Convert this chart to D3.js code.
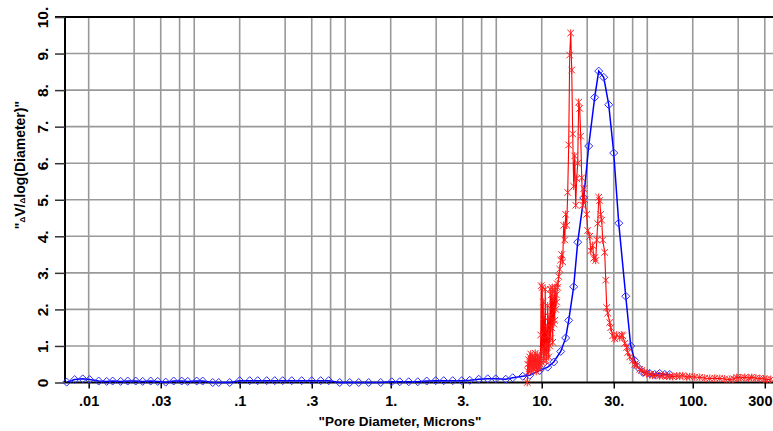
<!DOCTYPE html>
<html>
<head>
<meta charset="utf-8">
<script src="https://cdn.jsdelivr.net/npm/d3@7"></script>
<style>
  html, body { margin: 0; padding: 0; background: #fff; }
  svg { display: block; }
  text { font-family: Arial, "Liberation Sans", sans-serif; font-weight: bold; fill: #000; }
</style>
</head>
<body>
<svg id="chart" width="773" height="431"></svg>
<script>
// Pore size distribution, dV/dlog(D) versus pore diameter (microns)

// Blue run (diamond markers)
const blueDiam = [0.00715, 0.00808, 0.00913, 0.01015, 0.01165, 0.01316, 0.01442, 0.01629, 0.01813, 0.02048,
  0.02279, 0.02574, 0.02864, 0.03236, 0.03655, 0.04129, 0.04526, 0.05191, 0.05689, 0.06627,
  0.07261, 0.08587, 0.1, 0.1165, 0.1316, 0.151, 0.1706, 0.1927, 0.2211, 0.2574,
  0.2999, 0.3439, 0.3885, 0.4595, 0.5352, 0.614, 0.715, 0.8587, 1.015, 1.147,
  1.316, 1.51, 1.732, 1.986, 2.244, 2.574, 2.953, 3.336, 3.826, 4.389,
  4.96, 5.776, 6.426, 7.485, 8.327, 9.7, 10.96, 12.01, 13.36, 14.41,
  15.09, 16.28, 17.31, 18.97, 20.47, 22.43, 23.84, 25.74, 27.78, 29.98,
  32.36, 36.01, 38.86, 41.29, 43.22, 46.72, 51.9, 56.0, 60.4, 65.3, 70.4];
const blueVal = [0.01, 0.08, 0.1, 0.08, 0.04, 0.03, 0.04, 0.03, 0.04, 0.04,
  0.03, 0.04, 0.03, 0.01, 0.04, 0.04, 0.03, 0.04, 0.04, 0.0,
  0.0, 0.0, 0.05, 0.05, 0.05, 0.05, 0.05, 0.05, 0.05, 0.05,
  0.05, 0.05, 0.05, 0.0, 0.0, 0.0, 0.0, 0.0, 0.02, 0.02,
  0.02, 0.02, 0.04, 0.05, 0.05, 0.05, 0.05, 0.06, 0.09, 0.1,
  0.1, 0.09, 0.13, 0.17, 0.2, 0.33, 0.42, 0.56, 0.85, 1.22,
  1.7, 2.62, 3.84, 5.05, 6.47, 7.8, 8.52, 8.35, 7.6, 6.28,
  4.36, 2.36, 1.0, 0.6, 0.42, 0.28, 0.25, 0.22, 0.25, 0.22, 0.22];

// Red run (asterisk markers)
const redDiam = [8.017, 8.078, 8.14, 8.203, 8.265, 8.329, 8.392, 8.457, 8.521, 8.586,
  8.652, 8.718, 8.785, 8.852, 8.92, 8.988, 9.057, 9.126, 9.196, 9.267,
  9.338, 9.409, 9.481, 9.554, 9.627, 9.7, 9.774, 9.849, 9.924, 10.0,
  10.077, 10.154, 10.232, 10.31, 10.389, 10.468, 10.548, 10.629, 10.71, 10.792,
  10.875, 10.958, 11.042, 11.127, 11.212, 11.298, 11.384, 11.471, 11.559, 11.647,
  11.736, 11.826, 11.917, 12.008, 12.1, 12.192, 12.286, 12.38, 12.474, 12.57,
  12.666, 12.763, 12.96, 13.16, 13.36, 13.56, 13.77, 13.98, 14.2, 14.41,
  14.64, 14.86, 15.09, 15.32, 15.56, 15.8, 16.04, 16.28, 16.53, 16.79,
  17.05, 17.31, 17.57, 17.84, 18.12, 18.4, 18.68, 18.97, 19.26, 19.85,
  20.16, 20.78, 21.1, 21.76, 22.09, 22.43, 22.78, 23.13, 23.48, 23.84,
  24.21, 24.58, 24.96, 25.35, 26.13, 26.53, 26.94, 27.36, 28.2, 28.64,
  29.52, 30.44, 31.38, 32.86, 33.88, 34.4, 35.47, 36.56, 37.13, 38.27,
  40.09, 41.29, 42.62, 44.57, 45.96, 48.1, 49.6, 51.9, 54.35, 56.9,
  60.4, 63.3, 67.3, 70.4, 73.7, 78.3, 82.0, 85.9, 91.3, 95.5,
  103.1, 111.3, 120.1, 129.6, 139.9, 151.0, 162.9, 175.8, 186.9, 195.6,
  207.9, 221.1, 235.0, 245.9, 261.4, 277.8, 295.3, 309.2, 328.6];
const redVal = [0.0, 0.5, 0.3, 0.62, 0.38, 0.7, 0.45, 0.78, 0.32, 0.6,
  0.4, 0.72, 0.5, 0.35, 0.68, 0.42, 0.8, 0.5, 0.3, 0.65,
  0.45, 0.75, 0.38, 0.6, 0.42, 0.7, 0.5, 1.3, 2.65, 0.55,
  2.6, 0.9, 2.2, 0.6, 1.8, 0.75, 2.55, 1.0, 0.6, 1.5,
  0.8, 2.1, 1.3, 0.7, 1.8, 1.0, 2.55, 1.2, 2.4, 1.5,
  2.6, 1.1, 2.3, 1.6, 2.5, 1.7, 2.6, 2.0, 2.4, 2.2,
  2.7, 2.6, 2.9, 3.1, 3.35, 3.5, 3.3, 4.3, 3.9, 4.6,
  4.3, 5.2, 6.5, 8.96, 9.56, 8.55, 6.8, 5.37, 6.2, 4.85,
  5.58, 6.0, 7.67, 7.5, 6.74, 5.6, 4.85, 5.3, 5.0, 4.6,
  4.16, 4.0, 3.6, 3.75, 3.4, 3.42, 3.34, 3.9, 4.35, 5.07,
  4.98, 4.6, 4.44, 3.9, 3.56, 2.8, 2.05, 1.9, 1.64, 1.5,
  1.28, 1.2, 1.3, 1.23, 1.3, 1.28, 1.07, 0.96, 0.82, 0.7,
  0.6, 0.5, 0.47, 0.36, 0.33, 0.28, 0.25, 0.22, 0.19, 0.2,
  0.18, 0.19, 0.17, 0.17, 0.16, 0.18, 0.17, 0.19, 0.15, 0.16,
  0.15, 0.14, 0.12, 0.11, 0.12, 0.11, 0.1, 0.08, 0.1, 0.14,
  0.13, 0.14, 0.12, 0.14, 0.12, 0.11, 0.1, 0.08, 0.09];

// Axis ticks and labels
const xTickValues = [0.01, 0.03, 0.1, 0.3, 1, 3, 10, 30, 100, 300];
const xTickLabels = [".01", ".03", ".1", ".3", "1.", "3.", "10.", "30.", "100.", "300"];
const xGridValues = [0.01, 0.02, 0.03, 0.04, 0.05, 0.1, 0.2, 0.3, 0.4, 0.5,
  1, 2, 3, 4, 5, 10, 20, 30, 40, 50, 100, 200, 300];
const yTickValues = [0, 1, 2, 3, 4, 5, 6, 7, 8, 9, 10];
const yTickLabels = ["0", "1.", "2.", "3.", "4.", "5.", "6.", "7.", "8.", "9.", "10."];
const xDomain = [0.00697, 340];
const yDomain = [0, 10];

const svg = d3.select("#chart");
const W = 773, H = 431;
const mLeft = 65, mRight = 773, mTop = 17, mBottom = 382.5;

const x = d3.scaleLog().domain(xDomain).range([mLeft, mRight]);
const y = d3.scaleLinear().domain(yDomain).range([mBottom, mTop]);

// Grid
const grid = svg.append("g").attr("stroke", "#999").attr("stroke-width", 1.6);
grid.selectAll("line.v").data(xGridValues).join("line").attr("class", "v")
  .attr("x1", d => x(d)).attr("x2", d => x(d))
  .attr("y1", mTop).attr("y2", mBottom);
grid.selectAll("line.h").data(yTickValues.filter(v => v > 0 && v < 10)).join("line").attr("class", "h")
  .attr("x1", mLeft).attr("x2", mRight)
  .attr("y1", d => y(d)).attr("y2", d => y(d));

// Frame: top border
svg.append("line").attr("x1", mLeft - 10).attr("x2", mRight)
  .attr("y1", mTop).attr("y2", mTop).attr("stroke", "#000").attr("stroke-width", 2);

// Bottom axis
const xAxis = d3.axisBottom(x).tickValues(xTickValues)
  .tickFormat((d, i) => xTickLabels[i]).tickSize(6).tickPadding(7).tickSizeOuter(0);
const gx = svg.append("g").attr("transform", `translate(0,${mBottom})`).call(xAxis);
gx.select(".domain").attr("stroke", "#000").attr("stroke-width", 2)
  .attr("d", `M${mLeft},0H${W}`);
gx.selectAll(".tick line").attr("stroke", "#000").attr("stroke-width", 1.5);
gx.selectAll(".tick text").attr("font-size", 14.5).attr("font-weight", "bold")
  .attr("font-family", "Arial, 'Liberation Sans', sans-serif").attr("fill", "#000");
// the last label sits against the right edge
gx.selectAll(".tick text").filter(d => x(d) > W - 20)
  .attr("text-anchor", "end").attr("x", d => W - 1 - x(d));

// Left axis with rotated labels
const yAxis = d3.axisLeft(y).tickValues(yTickValues)
  .tickFormat((d, i) => yTickLabels[i]).tickSize(10).tickSizeOuter(0);
const gy = svg.append("g").attr("transform", `translate(${mLeft},0)`).call(yAxis);
gy.select(".domain").attr("stroke", "#000").attr("stroke-width", 2)
  .attr("d", `M0,${mTop}V${mBottom}`);
gy.selectAll(".tick line").attr("stroke", "#333").attr("stroke-width", 1.5);
gy.selectAll(".tick text")
  .attr("x", null).attr("dy", null)
  .attr("transform", "translate(-17.5,0) rotate(-90)")
  .attr("text-anchor", "middle")
  .attr("font-size", 15.5).attr("font-weight", "bold")
  .attr("font-family", "Arial, 'Liberation Sans', sans-serif").attr("fill", "#000");

// Axis titles
svg.append("text")
  .attr("x", 400).attr("y", 426)
  .attr("text-anchor", "middle").attr("font-size", 13.5)
  .text("\"Pore Diameter, Microns\"");

const yt = svg.append("text")
  .attr("transform", "translate(25,165) rotate(-90)")
  .attr("text-anchor", "middle").attr("font-size", 14);
yt.append("tspan").text("\"");
yt.append("tspan").attr("font-size", 8).text("\u0394");
yt.append("tspan").text("V/");
yt.append("tspan").attr("font-size", 8).text("\u0394");
yt.append("tspan").text("log(Diameter)\"");

// Series
svg.append("clipPath").attr("id", "plot-clip").append("rect")
  .attr("x", mLeft - 5).attr("y", mTop - 5).attr("width", W - mLeft + 5).attr("height", H - mTop + 5);
const plot = svg.append("g").attr("clip-path", "url(#plot-clip)");

const blue = blueDiam.map((d, i) => [d, blueVal[i]]);
const red = redDiam.map((d, i) => [d, redVal[i]]);
const line = d3.line().x(d => x(d[0])).y(d => y(d[1]));

plot.append("path").datum(blue).attr("d", line)
  .attr("fill", "none").attr("stroke", "#0000ff").attr("stroke-width", 1.5);
plot.selectAll("path.dia").data(blue).join("path").attr("class", "dia")
  .attr("transform", d => `translate(${x(d[0])},${y(d[1])})`)
  .attr("d", "M0,-4L4,0L0,4L-4,0Z")
  .attr("fill", "none").attr("stroke", "#2b2bff").attr("stroke-width", 1);

plot.append("path").datum(red).attr("d", line)
  .attr("fill", "none").attr("stroke", "#ff0000").attr("stroke-width", 1.1);
plot.selectAll("path.ast").data(red).join("path").attr("class", "ast")
  .attr("transform", d => `translate(${x(d[0])},${y(d[1])})`)
  .attr("d", "M-3.3,-3.3L3.3,3.3M-3.3,3.3L3.3,-3.3M0,-3.8L0,3.8")
  .attr("fill", "none").attr("stroke", "#ff2020").attr("stroke-width", 1);
</script>
</body>
</html>
